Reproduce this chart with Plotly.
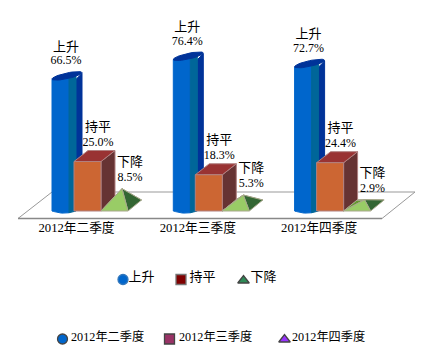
import math
import plotly.graph_objects as go

categories = ["2012年二季度", "2012年三季度", "2012年四季度"]
series_names = ["上升", "持平", "下降"]
rise = [66.5, 76.4, 72.7]
flat = [25.0, 18.3, 24.4]
fall = [8.5, 5.3, 2.9]

W, H = 441, 359
PX = 1.98          # pixels per percent
BASE = 211         # pixel row of value 0
STEP = 121.3
FONT = "Liberation Serif, 'Noto Sans CJK SC', serif"

def v(px_row):
    return (BASE - px_row) / PX

fig = go.Figure()

def poly(pts, fill, line=None, lw=1):
    fig.add_trace(go.Scatter(
        x=[p[0] for p in pts] + [pts[0][0]],
        y=[p[1] for p in pts] + [pts[0][1]],
        mode="lines", fill="toself", fillcolor=fill,
        line=dict(color=line or fill, width=lw),
        hoverinfo="skip", showlegend=False))

def label(x, y, s, size=12, pos="middle center"):
    fig.add_trace(go.Scatter(
        x=[x], y=[y], mode="text", text=[s], textposition=pos,
        textfont=dict(family=FONT, size=size, color="#000000"),
        hoverinfo="skip", showlegend=False))

# floor
poly([(18, v(218.5)), (382, v(218.5)), (415, v(192)), (52, v(192))], "#FFFFFF", "#999999", 1)
fig.add_trace(go.Scatter(x=[18, 382], y=[v(218.5)] * 2, mode="lines",
                         line=dict(color="#888888", width=1.5),
                         hoverinfo="skip", showlegend=False))

def cylinder(x0, val):
    top = val                      # value at front top-left
    yt = BASE - top * PX
    n = 24
    # back band
    poly([(76 + x0, v(yt)), (82 + x0, v(yt - 6)), (82 + x0, v(BASE - 6)), (76 + x0, v(BASE))], "#003399")
    def bottom(a, b):
        out = []
        for i in range(n + 1):
            x = a + (b - a) * i / n
            t = (x - 52 - x0) / 24
            out.append((x, -(2.2 * math.sin(math.pi * t)) / PX))
        return out
    poly([(52 + x0, v(yt)), (69 + x0, v(yt - 4))] + bottom(69 + x0, 52 + x0), "#0066CC")
    poly([(69 + x0, v(yt - 4)), (76 + x0, v(yt - 6))] + bottom(76 + x0, 69 + x0), "#006699")
    cx, cy = 67 + x0, yt - 3.5
    ell = []
    for i in range(40):
        a = 2 * math.pi * i / 40
        ell.append((cx + 15 * math.cos(a), v(cy - 3.2 * math.cos(a) + 2.9 * math.sin(a))))
    poly(ell, "#003399")

def cuboid(x0, val):
    edge = "#B08080"
    L, R, DX, DY = 74 + x0, 101 + x0, 14, 11
    h = val
    dy = DY / PX
    poly([(R, 0), (R + DX, dy), (R + DX, h + dy), (R, h)], "#663333", edge)
    poly([(L, h), (R, h), (R + DX, h + dy), (L + DX, h + dy)], "#993333", edge)
    poly([(L, 0), (R, 0), (R, h), (L, h)], "#CC6633", edge)

def pyramid(x0, val):
    edge = "#A8A88C"
    L, R, DX, DY = 101 + x0, 128 + x0, 13.5, 11
    dy = DY / PX
    ax, ay = 122 + x0, val + dy / 2
    poly([(L, 0), (L + DX, dy), (ax, ay)], "#669933", edge)
    poly([(L + DX, dy), (R + DX, dy), (ax, ay)], "#336633", edge)
    poly([(R, 0), (R + DX, dy), (ax, ay)], "#336633", edge)
    poly([(L, 0), (R, 0), (ax, ay)], "#99CC66", edge)

for i, cat in enumerate(categories):
    x0 = i * STEP
    cylinder(x0, rise[i])
    cuboid(x0, flat[i])
    pyramid(x0, fall[i])

for i, cat in enumerate(categories):
    x0 = i * STEP
    top = rise[i] + 7 / PX
    label(66 + x0, top + 11 / PX, f"{rise[i]:.1f}%")
    label(66 + x0, top + 25 / PX, series_names[0], size=13)
    ctop = flat[i] + 11 / PX
    label(98 + x0, ctop + 8 / PX, f"{flat[i]:.1f}%")
    label(98 + x0, ctop + 23 / PX, series_names[1], size=13)
    atop = fall[i] + 5.5 / PX
    label(130 + x0, atop + 11 / PX, f"{fall[i]:.1f}%")
    label(130 + x0, atop + 26 / PX, series_names[2], size=13)
    label(76.5 + x0, v(229), cat, size=12.7)

def key(mx, my, tx, ty, s, symbol, color, edge, size, fs):
    fig.add_trace(go.Scatter(
        x=[mx], y=[v(my)], mode="markers",
        marker=dict(symbol=symbol, size=size, color=color, line=dict(color=edge, width=1.3)),
        hoverinfo="skip", showlegend=False))
    label(tx, v(ty), s, size=fs, pos="middle right")

key(123, 279.5, 128.5, 278, series_names[0], "circle", "#0066CC", "#3377BB", 10, 13)
key(181, 279.5, 189.5, 278, series_names[1], "square", "#800000", "#777777", 10, 13)
key(243.5, 280.5, 250.5, 278, series_names[2], "triangle-up", "#2E8B57", "#444444", 10, 13)
key(62.5, 339, 71, 338, categories[0], "circle", "#0066CC", "#444444", 10, 12.2)
key(169.5, 339, 179, 338, categories[1], "square", "#993366", "#444444", 10, 12.2)
key(284.5, 339.5, 292, 338, categories[2], "triangle-up", "#9933FF", "#444444", 10, 12.2)

fig.update_layout(
    width=W, height=H, margin=dict(l=0, r=0, t=0, b=0),
    paper_bgcolor="#FFFFFF", plot_bgcolor="#FFFFFF", showlegend=False,
    xaxis=dict(range=[0, W], visible=False, fixedrange=True),
    yaxis=dict(range=[v(H), v(0)], visible=False, fixedrange=True),
)
fig.write_html("out.html", config={"displayModeBar": False, "responsive": False},
               post_script="document.body.style.margin='0';document.body.style.overflow='hidden';")
